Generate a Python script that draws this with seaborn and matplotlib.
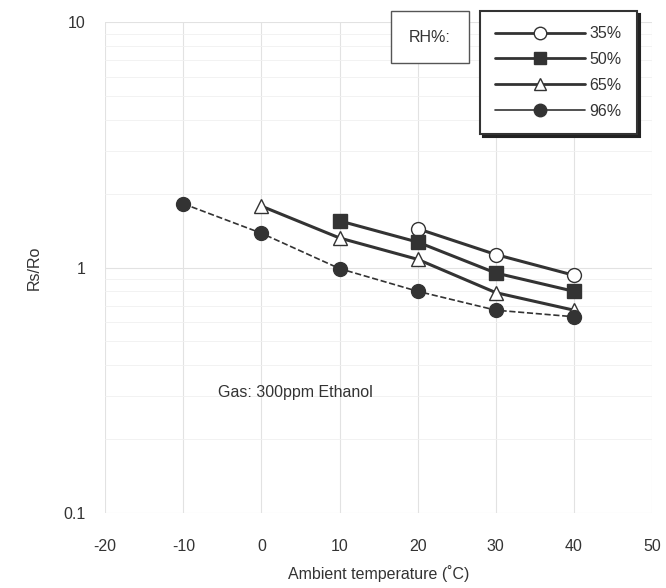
import numpy as np
import pandas as pd
import matplotlib
matplotlib.use("Agg")
import matplotlib.pyplot as plt
import seaborn as sns
from matplotlib.lines import Line2D

# -----------------------------
# DATA
# -----------------------------
rh_labels = ["35%", "50%", "65%", "96%"]

temp_35 = [20, 30, 40]
rs_35 = [1.44, 1.13, 0.93]

temp_50 = [10, 20, 30, 40]
rs_50 = [1.55, 1.27, 0.95, 0.80]

temp_65 = [0, 10, 20, 30, 40]
rs_65 = [1.78, 1.32, 1.08, 0.79, 0.67]

temp_96 = [-10, 0, 10, 20, 30, 40]
rs_96 = [1.82, 1.38, 0.99, 0.80, 0.67, 0.63]

x_ticks = [-20, -10, 0, 10, 20, 30, 40, 50]
y_ticks = [0.1, 1, 10]
y_tick_labels = ["0.1", "1", "10"]

df = pd.concat([
    pd.DataFrame({"temp": temp_35, "rs": rs_35, "RH": "35%"}),
    pd.DataFrame({"temp": temp_50, "rs": rs_50, "RH": "50%"}),
    pd.DataFrame({"temp": temp_65, "rs": rs_65, "RH": "65%"}),
    pd.DataFrame({"temp": temp_96, "rs": rs_96, "RH": "96%"}),
], ignore_index=True)

# -----------------------------
# STYLE
# -----------------------------
sns.set_theme(style="white")
plt.rcParams["font.family"] = ["Liberation Sans", "DejaVu Sans"]
plt.rcParams["font.size"] = 11

markers = {"35%": "o", "50%": "s", "65%": "^", "96%": "o"}
face = {"35%": "white", "50%": "#333333", "65%": "white", "96%": "#333333"}
widths = {"35%": 2.2, "50%": 2.2, "65%": 2.2, "96%": 1.2}

fig = plt.figure(figsize=(6.66, 5.88), dpi=100)
ax = fig.add_axes([0.158, 0.128, 0.821, 0.834])

# -----------------------------
# LINES
# -----------------------------
for lab in rh_labels:
    sub = df[df["RH"] == lab]
    sns.lineplot(data=sub, x="temp", y="rs", ax=ax, color="#333333",
                 marker=markers[lab], markersize=10, markerfacecolor=face[lab],
                 markeredgecolor="#333333", markeredgewidth=1,
                 linewidth=widths[lab],
                 linestyle="--" if lab == "96%" else "-",
                 legend=False)

ax.set_yscale("log")
ax.set_xlim(-20, 50)
ax.set_ylim(0.1, 10)
ax.set_xticks(x_ticks)
ax.set_xticklabels([str(t) for t in x_ticks])
ax.set_yticks(y_ticks)
ax.set_yticklabels(y_tick_labels)
ax.yaxis.set_minor_formatter(matplotlib.ticker.NullFormatter())
ax.tick_params(axis="x", labelsize=11.5, colors="#333333", length=0, pad=19)
ax.tick_params(axis="y", labelsize=11.5, colors="#333333", length=0, pad=14)

ax.grid(True, which="major", color="#e2e2e2", linewidth=0.8)
ax.grid(True, which="minor", axis="y", color="#f0f0f0", linewidth=0.6)
for s in ax.spines.values():
    s.set_visible(False)

ax.set_xlabel("Ambient temperature (\u02daC)", fontsize=11.5, color="#333333", labelpad=8)
ax.set_ylabel("Rs/Ro", fontsize=11.5, color="#333333", labelpad=16)

ax.text(-5.6, 0.31, "Gas: 300ppm Ethanol", fontsize=11.5, color="#333333",
        va="center", ha="left")

# -----------------------------
# LEGEND
# -----------------------------
handles = [
    Line2D([], [], color="#333333", lw=2, marker="o", markersize=9,
           markerfacecolor="white", markeredgecolor="#333333"),
    Line2D([], [], color="#333333", lw=2, marker="s", markersize=9,
           markerfacecolor="#333333", markeredgecolor="#333333"),
    Line2D([], [], color="#333333", lw=2, marker="^", markersize=9,
           markerfacecolor="white", markeredgecolor="#333333"),
    Line2D([], [], color="#333333", lw=1.2, marker="o", markersize=9,
           markerfacecolor="#333333", markeredgecolor="#333333"),
]
leg = ax.legend(handles, rh_labels, loc="upper right",
                bbox_to_anchor=(645 / 666, 1 - 3 / 588),
                bbox_transform=fig.transFigure,
                handlelength=5.6, labelspacing=0.68, fontsize=11.5,
                frameon=True, fancybox=False, borderpad=0.95,
                handletextpad=0.3,
                shadow={"color": "#222222", "alpha": 1})
leg.get_frame().set_edgecolor("#333333")
leg.get_frame().set_linewidth(1.5)
for t in leg.get_texts():
    t.set_color("#333333")

fig.text(430 / 666, 1 - 37 / 588, "RH%:", fontsize=11.5, color="#333333",
         ha="center", va="center",
         bbox=dict(boxstyle="square,pad=1.15", facecolor="white",
                   edgecolor="#555555", linewidth=1))

fig.savefig("out.png", dpi=100)
